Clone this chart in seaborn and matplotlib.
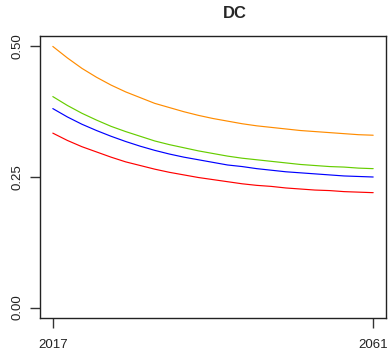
import matplotlib
matplotlib.use("Agg")
import matplotlib.pyplot as plt
import seaborn as sns
import pandas as pd

years = list(range(2017, 2062, 2))

orange = [0.500, 0.478, 0.458, 0.441, 0.426, 0.413, 0.402, 0.391, 0.383, 0.375,
          0.368, 0.362, 0.357, 0.352, 0.348, 0.345, 0.342, 0.339, 0.337, 0.335,
          0.333, 0.331, 0.330]
green = [0.404, 0.387, 0.372, 0.359, 0.347, 0.337, 0.328, 0.319, 0.312, 0.306,
         0.300, 0.295, 0.290, 0.286, 0.283, 0.280, 0.277, 0.274, 0.272, 0.270,
         0.269, 0.267, 0.266]
blue = [0.381, 0.365, 0.351, 0.339, 0.328, 0.318, 0.309, 0.301, 0.294, 0.288,
        0.283, 0.278, 0.273, 0.270, 0.266, 0.263, 0.260, 0.258, 0.256, 0.254,
        0.252, 0.251, 0.250]
red = [0.334, 0.320, 0.308, 0.298, 0.288, 0.279, 0.272, 0.265, 0.259, 0.254,
       0.249, 0.245, 0.241, 0.237, 0.234, 0.232, 0.229, 0.227, 0.225, 0.224,
       0.222, 0.221, 0.220]

series = {"orange": orange, "green": green, "blue": blue, "red": red}
colors = {"orange": "#FF8C00", "green": "#66CD00", "blue": "#0000FF", "red": "#FF0000"}

y_ticks = [0.00, 0.25, 0.50]
y_labels = ["0.00", "0.25", "0.50"]
x_ticks = [2017, 2061]
x_labels = ["2017", "2061"]

rows = []
for name, vals in series.items():
    for yr, v in zip(years, vals):
        rows.append({"year": yr, "value": v, "series": name})
df = pd.DataFrame(rows)

sns.set_style("white")
plt.rcParams["font.family"] = ["Liberation Sans", "DejaVu Sans"]

fig = plt.figure(figsize=(3.9, 3.5), dpi=100)
W, H = 390, 350
ax = fig.add_axes([40 / W, 1 - 318 / H, (386 - 40) / W, (318 - 36) / H])

sns.lineplot(data=df, x="year", y="value", hue="series", palette=colors,
             linewidth=0.85, legend=False, ax=ax)

span_x = 2061 - 2017
ax.set_xlim(2017 - 0.04 * span_x, 2061 + 0.04 * span_x)
ax.set_ylim(0 - 0.02, 0.5 + 0.02)

ax.set_xticks(x_ticks)
ax.set_xticklabels(x_labels)
ax.set_yticks(y_ticks)
ax.set_yticklabels(y_labels, rotation=90, va="center")

ax.tick_params(axis="both", direction="out", length=7, width=1, color="#333333",
               labelsize=9.5, labelcolor="#222222", bottom=True, left=True)
ax.tick_params(axis="x", pad=8)
ax.tick_params(axis="y", pad=5)

for s in ax.spines.values():
    s.set_visible(True)
    s.set_color("#222222")
    s.set_linewidth(1.0)

ax.set_xlabel("")
ax.set_ylabel("")
fig.text(235 / W, 1 - 14 / H, "DC", ha="center", va="center",
         fontsize=12, fontweight="bold")

fig.savefig("out.png", dpi=100)
